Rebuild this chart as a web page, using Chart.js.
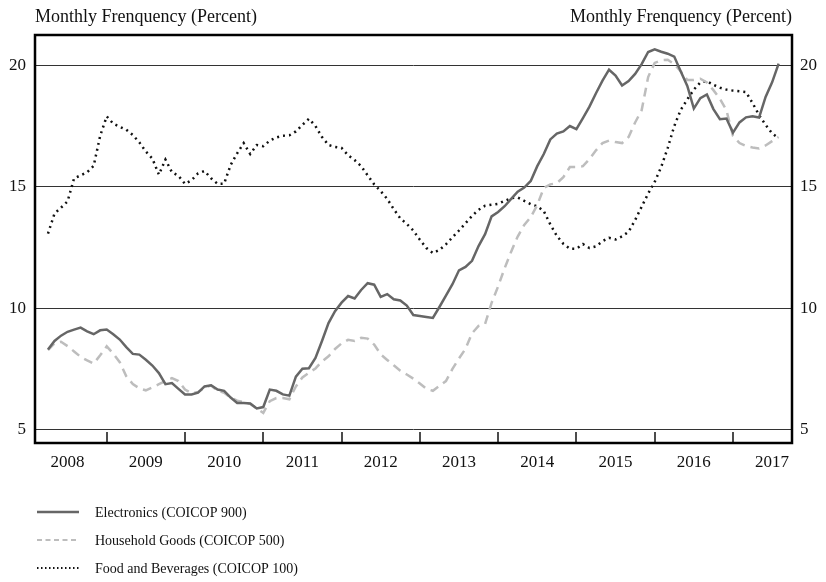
<!DOCTYPE html>
<html>
<head>
<meta charset="utf-8">
<script src="https://cdn.jsdelivr.net/npm/chart.js@4.4.1/dist/chart.umd.min.js"></script>
<style>
    html, body { margin: 0; padding: 0; background: #fff; }
</style>
</head>
<body>
<canvas id="chart" width="826" height="582"></canvas>
<script>
// Monthly series, April 2008 to August 2017
const startYear = 2008;
const startMonth = 4;
const yearLabels = ['2008', '2009', '2010', '2011', '2012', '2013', '2014', '2015', '2016', '2017'];
const yTicks = [5, 10, 15, 20];
const axisTitle = 'Monthly Frenquency (Percent)';

const electronics = [
    8.3, 8.65, 8.87, 9.03, 9.12, 9.2, 9.05, 8.93, 9.09,
    9.12, 8.93, 8.71, 8.4, 8.12, 8.09, 7.88, 7.64, 7.33, 6.87, 6.92, 6.68,
    6.45, 6.45, 6.52, 6.78, 6.83, 6.65, 6.6, 6.32, 6.1, 6.1, 6.08, 5.87,
    5.93, 6.65, 6.6, 6.45, 6.4, 7.18, 7.51, 7.53, 7.95, 8.65, 9.39, 9.88,
    10.23, 10.5, 10.4, 10.75, 11.03, 10.97, 10.47, 10.58, 10.37, 10.32, 10.11, 9.72,
    9.68, 9.64, 9.6, 10.05, 10.52, 10.99, 11.56, 11.7, 11.95, 12.56, 13.05, 13.78,
    13.96, 14.2, 14.5, 14.8, 14.97, 15.24, 15.85, 16.35, 16.95, 17.19, 17.28, 17.5,
    17.37, 17.83, 18.3, 18.85, 19.37, 19.82, 19.58, 19.17, 19.35, 19.65, 20.05, 20.55,
    20.66, 20.56, 20.48, 20.36, 19.75, 19.15, 18.22, 18.65, 18.8, 18.2, 17.78, 17.81,
    17.23, 17.65, 17.86, 17.9, 17.85, 18.7, 19.3, 20.07
];
const household = [
    8.27, 8.55, 8.62, 8.44, 8.22, 8.0, 7.85, 7.72, 8.06,
    8.43, 8.13, 7.78, 7.2, 6.88, 6.7, 6.62, 6.74, 6.87, 7.0, 7.12, 7.0,
    6.65, 6.5, 6.55, 6.72, 6.82, 6.6, 6.52, 6.32, 6.19, 6.13, 6.06, 5.87,
    5.69, 6.17, 6.3, 6.3, 6.25, 6.78, 7.15, 7.34, 7.52, 7.8, 8.02, 8.32,
    8.55, 8.7, 8.65, 8.78, 8.75, 8.5, 8.1, 7.87, 7.65, 7.43, 7.27, 7.1,
    6.9, 6.68, 6.6, 6.8, 7.0, 7.5, 7.93, 8.33, 8.97, 9.27, 9.35, 10.22,
    10.9, 11.65, 12.33, 12.95, 13.43, 13.75, 14.25, 14.95, 15.1, 15.15, 15.4, 15.81,
    15.81, 15.85, 16.14, 16.5, 16.8, 16.9, 16.84, 16.8, 17.05, 17.65, 18.15, 19.52,
    20.1, 20.21, 20.23, 20.05, 19.75, 19.4, 19.4, 19.45, 19.3, 18.98, 18.62, 18.15,
    17.1, 16.8, 16.68, 16.62, 16.58, 16.7, 16.88, 17.05
];
const food = [
    13.07, 13.9, 14.14, 14.4, 15.35, 15.47, 15.6, 15.86, 17.1,
    17.9, 17.6, 17.47, 17.35, 17.13, 16.83, 16.45, 16.16, 15.5, 16.12, 15.6, 15.45,
    15.12, 15.27, 15.55, 15.65, 15.35, 15.12, 15.13, 15.9, 16.38, 16.8, 16.35, 16.72,
    16.67, 16.9, 17.03, 17.1, 17.12, 17.28, 17.55, 17.8, 17.5, 17.05, 16.72, 16.64,
    16.6, 16.3, 16.1, 15.85, 15.47, 15.1, 14.82, 14.5, 14.08, 13.7, 13.47, 13.2,
    12.82, 12.48, 12.27, 12.4, 12.63, 12.92, 13.2, 13.5, 13.8, 14.05, 14.22, 14.26,
    14.3, 14.42, 14.53, 14.56, 14.42, 14.28, 14.2, 14.0, 13.45, 12.98, 12.65, 12.45,
    12.45, 12.64, 12.48, 12.55, 12.76, 12.9, 12.83, 12.96, 13.15, 13.63, 14.18, 14.72,
    15.2, 15.82, 16.6, 17.5, 18.17, 18.6, 19.0, 19.3, 19.35, 19.2, 19.08, 19.0,
    18.96, 18.93, 18.9, 18.45, 17.95, 17.55, 17.2, 17.0
];

// x position of each month as a fractional year
const months = electronics.map((v, i) => startYear + (startMonth - 1 + i) / 12);

function toPoints(values) {
    return values.map((v, i) => ({ x: months[i], y: v }));
}

const serif = '"Liberation Serif", "DejaVu Serif", serif';

// legend dash patterns are shorter than the plotted ones
const legendDash = [[], [5, 3.5], [1.5, 2.5]];

const decorations = {
    id: 'decorations',
    afterDatasetsDraw(chart) {
        const ctx = chart.ctx;
        const a = chart.chartArea;
        const x = chart.scales.x;
        ctx.save();

        // year boundary ticks, pointing up inside the frame
        ctx.strokeStyle = '#111';
        ctx.lineWidth = 1.5;
        yearLabels.slice(1).forEach(label => {
            const px = Math.round(x.getPixelForValue(Number(label)));
            ctx.beginPath();
            ctx.moveTo(px, a.bottom);
            ctx.lineTo(px, a.bottom - 11);
            ctx.stroke();
        });

        // frame
        ctx.strokeStyle = '#000';
        ctx.lineWidth = 2.5;
        ctx.strokeRect(a.left, a.top, a.right - a.left, a.bottom - a.top);

        // axis titles
        ctx.fillStyle = '#111';
        ctx.font = '18px ' + serif;
        ctx.textBaseline = 'alphabetic';
        ctx.textAlign = 'left';
        ctx.fillText(axisTitle, a.left, 22);
        ctx.textAlign = 'right';
        ctx.fillText(axisTitle, a.right, 22);

        // legend
        ctx.font = '14px ' + serif;
        ctx.textAlign = 'left';
        ctx.textBaseline = 'middle';
        chart.data.datasets.forEach((ds, i) => {
            const ly = 512 + i * 28;
            ctx.beginPath();
            ctx.setLineDash(legendDash[i]);
            ctx.strokeStyle = ds.borderColor;
            ctx.lineWidth = i === 0 ? 2.5 : 2;
            ctx.moveTo(37, ly);
            ctx.lineTo(79, ly);
            ctx.stroke();
            ctx.setLineDash([]);
            ctx.fillStyle = '#111';
            ctx.fillText(ds.label, 95, ly + 1);
        });

        ctx.restore();
    }
};

const tickFont = { family: serif, size: 17 };

new Chart(document.getElementById('chart'), {
    type: 'line',
    data: {
        datasets: [{
            label: 'Electronics (COICOP 900)',
            data: toPoints(electronics),
            borderColor: '#666666',
            borderWidth: 2.5,
            pointRadius: 0,
            tension: 0
        }, {
            label: 'Household Goods (COICOP 500)',
            data: toPoints(household),
            borderColor: '#bdbdbd',
            borderWidth: 2.5,
            borderDash: [9, 6],
            pointRadius: 0,
            tension: 0
        }, {
            label: 'Food and Beverages (COICOP 100)',
            data: toPoints(food),
            borderColor: '#111111',
            borderWidth: 2.5,
            borderDash: [2, 4],
            pointRadius: 0,
            tension: 0
        }]
    },
    options: {
        responsive: false,
        animation: false,
        layout: { padding: { top: 35, bottom: 99, left: 0, right: 0 } },
        plugins: {
            legend: { display: false },
            tooltip: { enabled: false }
        },
        scales: {
            x: {
                type: 'linear',
                min: 2008.084,
                max: 2017.754,
                afterBuildTicks: scale => {
                    scale.ticks = yearLabels.map(l => ({ value: Number(l) + 0.5 }));
                },
                afterFit: scale => { scale.height = 40; },
                grid: { display: false, drawTicks: false },
                border: { display: false },
                ticks: {
                    autoSkip: false,
                    maxRotation: 0,
                    padding: 9,
                    color: '#111',
                    font: tickFont,
                    callback: value => String(Math.floor(value))
                }
            },
            y: {
                position: 'left',
                min: 4.45,
                max: 21.25,
                afterBuildTicks: scale => {
                    scale.ticks = yTicks.map(v => ({ value: v }));
                },
                afterFit: scale => { scale.width = 35; },
                grid: { color: '#333', lineWidth: 1, drawTicks: false },
                border: { display: false },
                ticks: { padding: 9, color: '#111', font: tickFont }
            },
            yRight: {
                position: 'right',
                min: 4.45,
                max: 21.25,
                afterBuildTicks: scale => {
                    scale.ticks = yTicks.map(v => ({ value: v }));
                },
                afterFit: scale => { scale.width = 34; },
                grid: { drawOnChartArea: false, drawTicks: false },
                border: { display: false },
                ticks: { padding: 8, color: '#111', font: tickFont }
            }
        }
    },
    plugins: [decorations]
});
</script>
</body>
</html>
